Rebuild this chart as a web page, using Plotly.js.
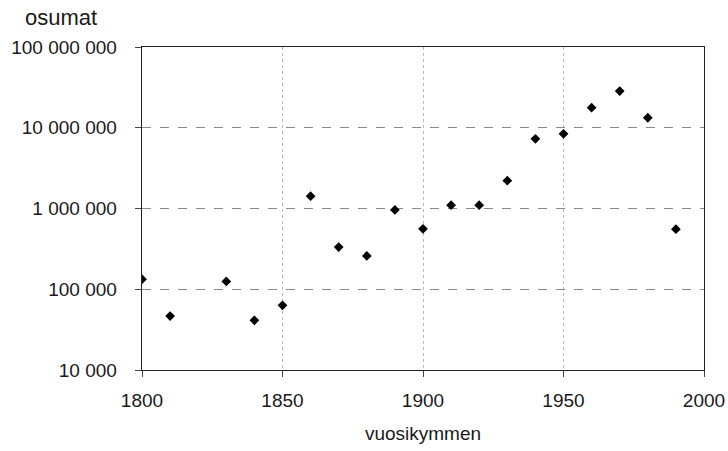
<!DOCTYPE html>
<html>
<head>
<meta charset="utf-8">
<script src="https://cdn.plot.ly/plotly-3.0.1.min.js"></script>
<style>html,body{margin:0;padding:0;background:#fff;}#chart{width:728px;height:451px;}</style>
</head>
<body>
<div id="chart"></div>
<script>
const decades = [1800, 1810, 1830, 1840, 1850, 1860, 1870, 1880, 1890, 1900, 1910, 1920, 1930, 1940, 1950, 1960, 1970, 1980, 1990];
const osumat = [133000, 46500, 125000, 41200, 63300, 1420000, 333000, 259000, 960000, 560000, 1100000, 1100000, 2210000, 7300000, 8400000, 17700000, 28500000, 13300000, 555000];
const yTickVals = [10000, 100000, 1000000, 10000000, 100000000];
const yTickText = ["10 000", "100 000", "1 000 000", "10 000 000", "100 000 000"];
const xTickVals = [1800, 1850, 1900, 1950, 2000];
const xTickText = ["1800", "1850", "1900", "1950", "2000"];

const font = {family: "Liberation Sans, Arial, sans-serif", size: 19, color: "#1a1a1a"};

Plotly.newPlot("chart", [{
  x: decades,
  y: osumat,
  type: "scatter",
  mode: "markers",
  marker: {symbol: "diamond", size: 7.5, color: "#000"},
  hoverinfo: "x+y"
}], {
  width: 728,
  height: 451,
  margin: {l: 142, r: 24, t: 47, b: 81},
  paper_bgcolor: "#fff",
  plot_bgcolor: "#fff",
  font: font,
  showlegend: false,
  xaxis: {
    range: [1800, 2000],
    tickvals: xTickVals,
    ticktext: xTickText,
    ticks: "outside",
    ticklen: 6,
    tickcolor: "#444",
    showline: true,
    linecolor: "#222",
    linewidth: 1.3,
    mirror: true,
    showgrid: true,
    gridcolor: "#bbb",
    griddash: "dot",
    gridwidth: 1,
    zeroline: false,
    tickfont: font,
    ticklabelstandoff: 7,
    title: {text: "vuosikymmen", font: font, standoff: 16}
  },
  yaxis: {
    type: "log",
    range: [4, 8],
    tickvals: yTickVals,
    ticktext: yTickText,
    ticks: "outside",
    ticklen: 6,
    tickcolor: "#444",
    showline: true,
    linecolor: "#222",
    linewidth: 1.3,
    mirror: true,
    showgrid: true,
    gridcolor: "#888",
    griddash: "dash",
    gridwidth: 1,
    zeroline: false,
    tickfont: font,
    ticklabelstandoff: 14
  },
  annotations: [{
    text: "osumat",
    xref: "paper", yref: "paper",
    x: -0.2117, y: 1.0898,
    xanchor: "left", yanchor: "middle",
    showarrow: false,
    font: {family: font.family, size: 22, color: font.color}
  }]
}, {displayModeBar: false, staticPlot: true});
</script>
</body>
</html>
